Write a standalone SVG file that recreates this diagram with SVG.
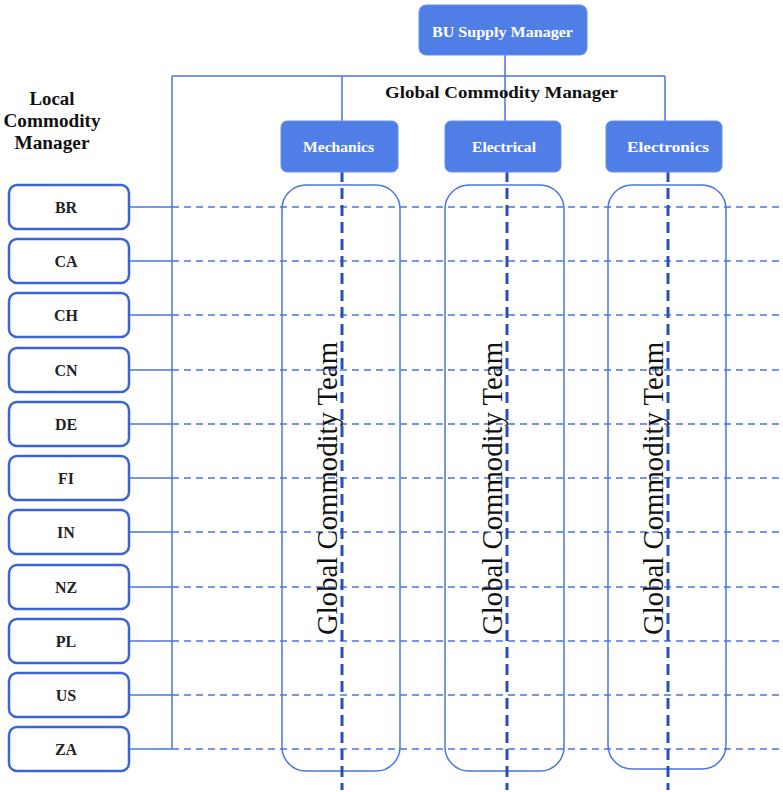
<svg xmlns="http://www.w3.org/2000/svg" width="783" height="792" viewBox="0 0 783 792">
<style>
.top{fill:#4f7fe6;stroke:#6690ee;stroke-width:1}
.toptxt{font-family:"Liberation Serif","Times New Roman",serif;font-weight:bold;font-size:15.5px;fill:#fff;text-anchor:middle}
.loc{fill:#fff;stroke:#3a64d6;stroke-width:2.5}
.loctxt{font-family:"Liberation Serif","Times New Roman",serif;font-weight:bold;font-size:16px;fill:#222;text-anchor:middle}
.team{fill:none;stroke:#4a74e0;stroke-width:1.5}
.teamtxt{font-family:"Liberation Serif","Times New Roman",serif;font-size:28.5px;fill:#111;text-anchor:middle}
.solid{fill:none;stroke:#4a74e0;stroke-width:1.5}
.hdash{fill:none;stroke:#4a74e0;stroke-width:1.5;stroke-dasharray:7 5}
.vdash{fill:none;stroke:#2a50b8;stroke-width:3;stroke-dasharray:11 6}
.hdr{font-family:"Liberation Serif","Times New Roman",serif;font-weight:bold;font-size:17px;fill:#111;text-anchor:middle}
.lhdr{font-family:"Liberation Serif","Times New Roman",serif;font-weight:bold;font-size:18px;fill:#111;text-anchor:middle}
</style>
<g id="connectors">
<path class="solid" d="M505 55V122 M172 76H665 M342 76V122 M665 76V122 M172 76V749"/>
<path class="solid" d="M129 207H172 M129 261H172 M129 315H172 M129 370H172 M129 424H172 M129 478H172 M129 532H172 M129 587H172 M129 641H172 M129 695H172 M129 749H172"/>
<path class="hdash" d="M172 207H783 M172 261H783 M172 315H783 M172 370H783 M172 424H783 M172 478H783 M172 532H783 M172 587H783 M172 641H783 M172 695H783 M172 749H783"/>
</g>
<g id="teams">
<rect class="team" x="282" y="185" width="118" height="586" rx="24"/>
<rect class="team" x="445" y="185" width="119" height="586" rx="24"/>
<rect class="team" x="608" y="185" width="118" height="584" rx="24"/>
<text class="teamtxt" transform="translate(337,488.5) rotate(-90)" textLength="293" lengthAdjust="spacingAndGlyphs">Global Commodity Team</text>
<text class="teamtxt" transform="translate(502,488.5) rotate(-90)" textLength="293" lengthAdjust="spacingAndGlyphs">Global Commodity Team</text>
<text class="teamtxt" transform="translate(663,488.5) rotate(-90)" textLength="293" lengthAdjust="spacingAndGlyphs">Global Commodity Team</text>
</g>
<g id="vdashes">
<path class="vdash" d="M342 171V790 M507 171V790 M668 171V790"/>
</g>
<g id="bu">
<rect class="top" x="419" y="5" width="168" height="50" rx="7"/>
<text class="toptxt" x="502.5" y="37" textLength="141" lengthAdjust="spacingAndGlyphs">BU Supply Manager</text>
</g>
<text class="hdr" x="501.5" y="98" textLength="233" lengthAdjust="spacingAndGlyphs">Global Commodity Manager</text>
<g id="local-header">
<text class="lhdr" x="52" y="105" textLength="45" lengthAdjust="spacingAndGlyphs">Local</text>
<text class="lhdr" x="52" y="127" textLength="97" lengthAdjust="spacingAndGlyphs">Commodity</text>
<text class="lhdr" x="52" y="149" textLength="75" lengthAdjust="spacingAndGlyphs">Manager</text>
</g>
<g id="mechanics"><rect class="top" x="281" y="121" width="117" height="51" rx="6"/><text class="toptxt" x="338.5" y="152" textLength="71" lengthAdjust="spacingAndGlyphs">Mechanics</text></g>
<g id="electrical"><rect class="top" x="445" y="121" width="116" height="51" rx="6"/><text class="toptxt" x="504" y="152" textLength="64" lengthAdjust="spacingAndGlyphs">Electrical</text></g>
<g id="electronics"><rect class="top" x="606" y="121" width="116" height="51" rx="6"/><text class="toptxt" x="668" y="152" textLength="82" lengthAdjust="spacingAndGlyphs">Electronics</text></g>
<g id="BR"><rect class="loc" x="9" y="185" width="120" height="44" rx="8"/><text class="loctxt" x="66" y="213">BR</text></g>
<g id="CA"><rect class="loc" x="9" y="239" width="120" height="44" rx="8"/><text class="loctxt" x="66" y="267">CA</text></g>
<g id="CH"><rect class="loc" x="9" y="293" width="120" height="44" rx="8"/><text class="loctxt" x="66" y="321">CH</text></g>
<g id="CN"><rect class="loc" x="9" y="348" width="120" height="44" rx="8"/><text class="loctxt" x="66" y="376">CN</text></g>
<g id="DE"><rect class="loc" x="9" y="402" width="120" height="44" rx="8"/><text class="loctxt" x="66" y="430">DE</text></g>
<g id="FI"><rect class="loc" x="9" y="456" width="120" height="44" rx="8"/><text class="loctxt" x="66" y="484">FI</text></g>
<g id="IN"><rect class="loc" x="9" y="510" width="120" height="44" rx="8"/><text class="loctxt" x="66" y="538">IN</text></g>
<g id="NZ"><rect class="loc" x="9" y="565" width="120" height="44" rx="8"/><text class="loctxt" x="66" y="593">NZ</text></g>
<g id="PL"><rect class="loc" x="9" y="619" width="120" height="44" rx="8"/><text class="loctxt" x="66" y="647">PL</text></g>
<g id="US"><rect class="loc" x="9" y="673" width="120" height="44" rx="8"/><text class="loctxt" x="66" y="701">US</text></g>
<g id="ZA"><rect class="loc" x="9" y="727" width="120" height="44" rx="8"/><text class="loctxt" x="66" y="755">ZA</text></g>
</svg>
